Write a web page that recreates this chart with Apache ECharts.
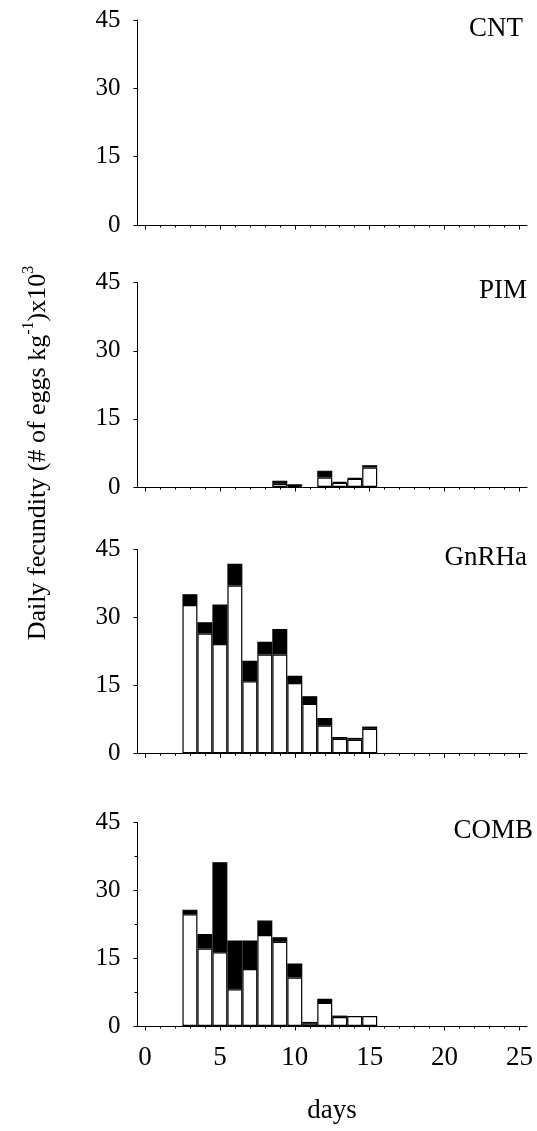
<!DOCTYPE html>
<html><head><meta charset="utf-8">
<script src="https://cdn.jsdelivr.net/npm/echarts@6/dist/echarts.min.js"></script>
<style>html,body{margin:0;padding:0;background:#fff}#c{width:537px;height:1131px}</style>
</head><body><div id="c"></div>
<script>
// ---- data ----
const days = ['0','1','2','3','4','5','6','7','8','9','10','11','12','13','14','15','16','17','18','19','20','21','22','23','24','25'];
const panelNames = ['CNT','PIM','GnRHa','COMB'];
const yTickValues = [0,15,30,45];
const xLabelDays = ['0','5','10','15','20','25'];
const cntWhite = [null,null,null,null,null,null,null,null,null,null,null,null,null,null,null,null,null,null,null,null,null,null,null,null,null,null];
const cntBlack = [null,null,null,null,null,null,null,null,null,null,null,null,null,null,null,null,null,null,null,null,null,null,null,null,null,null];
const pimWhite = [null,null,null,null,null,null,null,null,null,0.7,0.2,null,2.1,0.9,1.8,4.3,null,null,null,null,null,null,null,null,null,null];
const pimBlack = [null,null,null,null,null,null,null,null,null,0.7,0.4,null,1.5,0.2,0.2,0.5,null,null,null,null,null,null,null,null,null,null];
const gnrhaWhite = [null,null,null,32.7,26.4,24.1,37.0,15.9,21.8,21.8,15.5,10.9,6.1,3.2,3.0,5.4,null,null,null,null,null,null,null,null,null,null];
const gnrhaBlack = [null,null,null,2.4,2.5,8.7,4.8,4.5,2.8,5.6,1.6,1.7,1.7,0.4,0.4,0.5,null,null,null,null,null,null,null,null,null,null];
const combWhite = [null,null,null,24.7,17.1,16.3,8.1,12.6,20.1,18.6,10.7,0.6,5.1,2.0,2.2,2.2,null,null,null,null,null,null,null,null,null,null];
const combBlack = [null,null,null,1.0,3.2,19.9,10.8,6.3,3.2,1.0,3.1,0.3,0.9,0.3,null,null,null,null,null,null,null,null,null,null,null,null];
const whiteSets = [cntWhite, pimWhite, gnrhaWhite, combWhite];
const blackSets = [cntBlack, pimBlack, gnrhaBlack, combBlack];
const yTitle = '{n|Daily fecundity (# of eggs kg}{s|-1}{n|)x10}{s|3}';
const xTitle = 'days';

// ---- layout ----
const FONT = "'Liberation Serif','Times New Roman',serif";
const gridTops = [20, 282.7, 549.3, 822.3];
const gridHeights = [205, 204.3, 204, 203.7];
const labelRight = [523, 527, 527, 533];
const yMax = yTickValues[yTickValues.length - 1];
const yStep = yTickValues[1] - yTickValues[0];

const grids = [], xAxes = [], yAxes = [], series = [], graphics = [];
for (let i = 0; i < 4; i++) {
  grids.push({left: 137.5, right: 10, top: gridTops[i], height: gridHeights[i]});
  xAxes.push({
    type: 'category', data: days, gridIndex: i, position: 'bottom', boundaryGap: true,
    axisLine: {show: true, lineStyle: {color: '#000', width: 1.2}},
    axisTick: {show: true, alignWithLabel: true, interval: 0, length: 2.5, lineStyle: {color: '#000', width: 1}},
    axisLabel: {show: false}, splitLine: {show: false}
  });
  xAxes.push({
    type: 'category', data: days, gridIndex: i, position: 'bottom', boundaryGap: true,
    axisLine: {show: false},
    axisTick: {show: true, alignWithLabel: true, interval: (idx, v) => xLabelDays.indexOf(v) >= 0, length: 4.5, lineStyle: {color: '#000', width: 1}},
    axisLabel: {show: i === 3, interval: (idx, v) => xLabelDays.indexOf(v) >= 0, color: '#000', fontFamily: FONT, fontSize: 27, margin: 18},
    splitLine: {show: false}
  });
  yAxes.push({
    type: 'value', gridIndex: i, min: 0, max: yMax, interval: yStep,
    axisLine: {show: true, lineStyle: {color: '#000', width: 1}},
    axisTick: {show: true, length: 4, lineStyle: {color: '#000', width: 1}},
    minorTick: {show: i === 3, splitNumber: 2, length: 3, lineStyle: {color: '#000', width: 1}},
    axisLabel: {color: '#000', fontFamily: FONT, fontSize: 25, margin: 17},
    splitLine: {show: false}
  });
  series.push({
    type: 'bar', xAxisIndex: 2 * i, yAxisIndex: i, stack: 's' + i, data: whiteSets[i],
    barWidth: '100%', barCategoryGap: '0%',
    itemStyle: {color: '#fff', borderColor: '#000', borderWidth: 1.2}, animation: false, silent: true
  });
  series.push({
    type: 'bar', xAxisIndex: 2 * i, yAxisIndex: i, stack: 's' + i, data: blackSets[i],
    barWidth: '100%', barCategoryGap: '0%',
    itemStyle: {color: '#000', borderColor: '#000', borderWidth: 1.2}, animation: false, silent: true
  });
  graphics.push({
    type: 'text', x: labelRight[i], y: gridTops[i] + 22,
    style: {text: panelNames[i], fill: '#000', font: '27px ' + FONT, align: 'right', textAlign: 'right', verticalAlign: 'bottom', textVerticalAlign: 'bottom'}
  });
}
graphics.push({
  type: 'text', x: 332, y: 1111,
  style: {text: xTitle, fill: '#000', font: '27px ' + FONT, align: 'center', textAlign: 'center', verticalAlign: 'middle', textVerticalAlign: 'middle'}
});
graphics.push({
  type: 'text', x: 38, y: 453, rotation: Math.PI / 2,
  style: {
    text: yTitle, fill: '#000', align: 'center', textAlign: 'center', verticalAlign: 'middle', textVerticalAlign: 'middle',
    rich: {
      n: {fontFamily: FONT, fontSize: 26, lineHeight: 34, fill: '#000'},
      s: {fontFamily: FONT, fontSize: 16, lineHeight: 20, verticalAlign: 'top', fill: '#000'}
    }
  }
});

const chart = echarts.init(document.getElementById('c'), null, {renderer: 'canvas'});
chart.setOption({
  animation: false, backgroundColor: '#fff',
  grid: grids, xAxis: xAxes, yAxis: yAxes, series: series, graphic: graphics
});
</script></body></html>
